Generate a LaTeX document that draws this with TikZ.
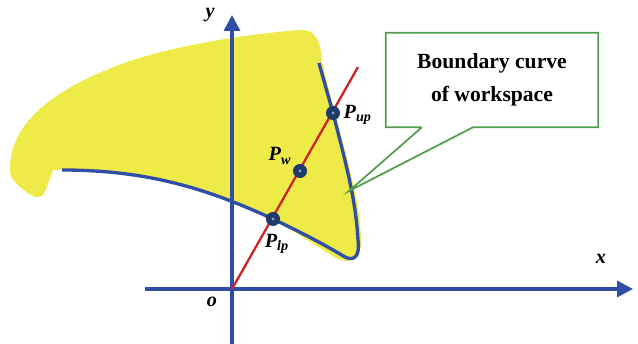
\documentclass[tikz,border=0pt]{standalone}
\usepackage{fontspec}
\setmainfont{Liberation Serif}
\usepackage{tikz}
\usetikzlibrary{arrows.meta,calc}
\definecolor{axisblue}{RGB}{48,78,165}
\definecolor{wsyellow}{RGB}{238,234,72}
\definecolor{rayred}{RGB}{205,35,35}
\definecolor{callgreen}{RGB}{80,160,75}
\definecolor{dotnavy}{RGB}{32,58,105}
\newcommand{\ptname}[2]{\textit{#1}\textsubscript{\textit{#2}}}

\tikzset{
  axis/.style={axisblue, line width=1.9pt, -{Triangle[length=9pt,width=9pt]}},
  bound/.style={axisblue, line width=1.9pt, line join=round},
  pt/.style={circle, fill=dotnavy, inner sep=0pt, minimum size=8pt},
  ptlab/.style={font=\fontsize{11.5}{13}\selectfont\bfseries\itshape, inner sep=0pt},
}

\begin{document}
\begin{tikzpicture}[x=0.2mm, y=-0.2mm]
    \useasboundingbox (0,0) rectangle (638,344);
    % Define points
    \coordinate (O) at (232,289);
    \coordinate (xs) at (145,289);
    \coordinate (xe) at (633,289);
    \coordinate (ys) at (232,344);
    \coordinate (ye) at (232,15);
    \coordinate (R) at (358,67);
    \coordinate (tip) at (349,191);
    % Workspace region
    \fill[wsyellow] (10,172) .. controls (8,120) and (60,85) .. (133,60)
      .. controls (190,42) and (260,33) .. (300,30)
      .. controls (315,29) and (321,40) .. (322,62)
      -- (335,113) .. controls (347,160) and (360,200) .. (361,240)
      .. controls (362,262) and (348,264) .. (336,258)
      .. controls (320,248) and (300,235) .. (273,219)
      .. controls (210,190) and (150,170) .. (62,170)
      -- (53,170) -- (45,192) .. controls (42,199) and (35,199) .. (25,191)
      .. controls (15,183) and (10,178) .. (10,172) -- cycle;
    % Axes
    \draw[axis] (xs) -- (xe);
    \draw[axis] (ys) -- (ye);
    \node[ptlab] (xlab) at (601,259) {x};
    \node[ptlab] (ylab) at (210,15) {y};
    \node[ptlab] (olab) at (212,302) {o};
    % Ray from the origin
    \draw[rayred, line width=1.3pt] (O) -- (R);
    % Boundary curve
    \draw[bound] (62,170) .. controls (150,170) and (210,190) .. (273,219)
      .. controls (300,232) and (320,242) .. (345,257)
      .. controls (355,262) and (360,255) .. (358,240)
      .. controls (356,200) and (345,160) .. (333,113) -- (319,63);
    % Mark points
    \node[pt] (Plp) at (273,219) {};
    \node[pt] (Pw) at (300,171) {};
    \node[pt] (Pup) at (333,113) {};
    \foreach \p in {Plp,Pw,Pup}
      \fill[axisblue!55!white] (\p) circle (0.9pt);
    \node[ptlab, anchor=west] (Puplab) at ($(Pup.east)+(3,2)$) {\ptname{P}{up}};
    \node[ptlab] (Pwlab) at (280,156) {\ptname{P}{w}};
    \node[ptlab] (Plplab) at (277,244) {\ptname{P}{lp}};
    % Callout
    \node[font=\fontsize{12.3}{18.7}\selectfont\bfseries, align=center,
      minimum width=4.24cm, minimum height=1.88cm, inner sep=0pt]
      (note) at (492,80) {Boundary curve\\of workspace};
    \draw[callgreen, line width=1pt, line join=miter]
      ($(note.south west)!0.17!(note.south east)$) -- (tip)
      -- ($(note.south west)!0.41!(note.south east)$) -- (note.south east)
      -- (note.north east) -- (note.north west) -- (note.south west)
      -- ($(note.south west)!0.17!(note.south east)$);
\end{tikzpicture}
\end{document}
